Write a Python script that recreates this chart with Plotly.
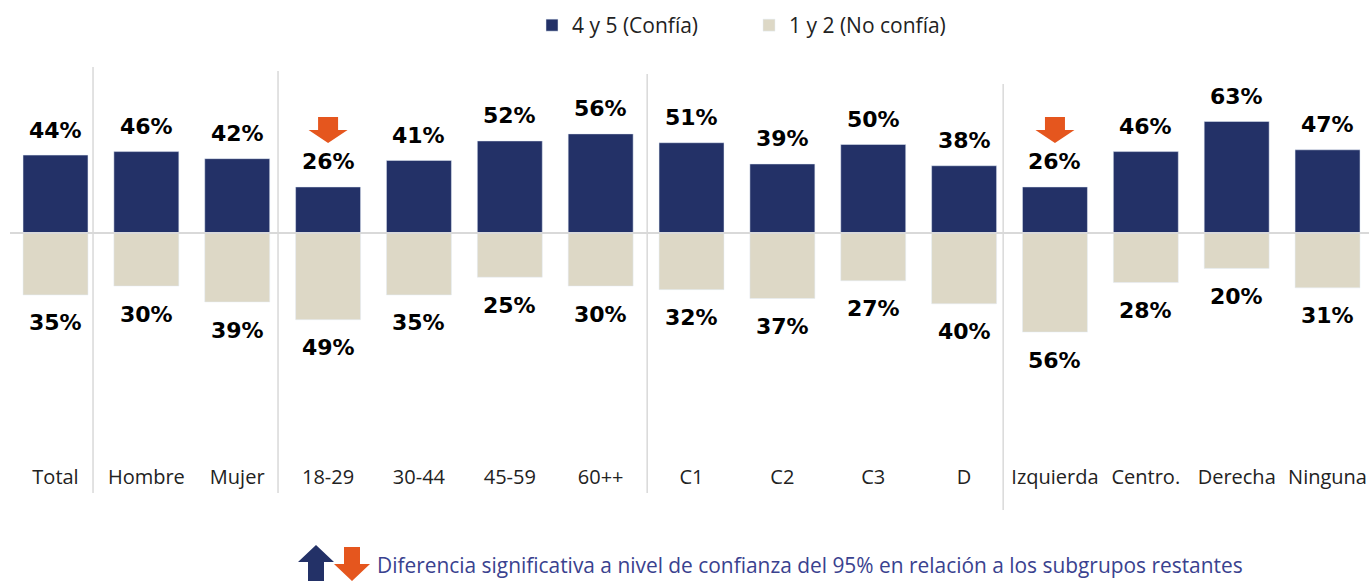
import plotly.graph_objects as go

# Survey results: share who trust (4-5) vs. do not trust (1-2), by subgroup
categories = ["Total", "Hombre", "Mujer", "18-29", "30-44", "45-59", "60++",
              "C1", "C2", "C3", "D", "Izquierda", "Centro.", "Derecha", "Ninguna"]
confia = [44, 46, 42, 26, 41, 52, 56, 51, 39, 50, 38, 26, 46, 63, 47]
no_confia = [35, 30, 39, 49, 35, 25, 30, 32, 37, 27, 40, 56, 28, 20, 31]
# significant difference vs. remaining subgroups: 1 = higher, -1 = lower, 0 = none
significancia = [0, 0, 0, -1, 0, 0, 0, 0, 0, 0, 0, -1, 0, 0, 0]

series_names = ["4 y 5 (Confía)", "1 y 2 (No confía)"]
nota = "Diferencia significativa a nivel de confianza del 95% en relación a los subgrupos restantes"

NAVY = "#233167"
BEIGE = "#DDD8C6"
ORANGE = "#E5561E"
GRID = "#D9D9D9"

W, H = 1369, 581
M_T, M_B = 60, 121
x_idx = list(range(len(categories)))

fig = go.Figure()
fig.add_bar(x=x_idx, y=confia, name=series_names[0], marker_color=NAVY,
            width=0.715, hoverinfo="skip")
fig.add_bar(x=x_idx, y=[-v for v in no_confia], name=series_names[1],
            marker_color=BEIGE, width=0.715, hoverinfo="skip")

label_font = dict(family="DejaVu Sans", size=22, color="#000000", weight="bold")
annotations = []
for i, (p, n) in enumerate(zip(confia, no_confia)):
    annotations.append(dict(x=i, y=p, text=f"{p}%", showarrow=False,
                            yanchor="middle", yshift=25, font=label_font))
    annotations.append(dict(x=i, y=-n, text=f"{n}%", showarrow=False,
                            yanchor="middle", yshift=-28, font=label_font))

plot_h = H - M_T - M_B


def py(px):
    """Convert a page pixel row to paper y."""
    return 1 - (px - M_T) / plot_h


shapes = []
# baseline
shapes.append(dict(type="line", xref="paper", yref="y", x0=10 / W, x1=1, y0=0, y1=0,
                   line=dict(color=GRID, width=2), layer="above"))
# group separators
for xs, top, bot in [(0.413, 67, 493), (2.449, 71, 493), (6.512, 74, 493), (10.43, 84, 510)]:
    shapes.append(dict(type="line", xref="x", yref="paper", x0=xs, x1=xs,
                       y0=py(bot), y1=py(top), line=dict(color=GRID, width=1.5)))


def arrow_path(down=True, tip=0, head=13, shaft=13, hw=19.5, sw=10):
    if down:
        pts = [(0, tip), (-hw, tip + head), (-sw, tip + head), (-sw, tip + head + shaft),
               (sw, tip + head + shaft), (sw, tip + head), (hw, tip + head)]
    else:
        pts = [(0, tip), (-hw, tip - head), (-sw, tip - head), (-sw, tip - head - shaft),
               (sw, tip - head - shaft), (sw, tip - head), (hw, tip - head)]
    return "M" + " L".join(f"{x},{y}" for x, y in pts) + " Z"


# significance arrows above bars
for i, s in enumerate(significancia):
    if s == 0:
        continue
    down = s < 0
    shapes.append(dict(type="path", xref="x", yref="y", xsizemode="pixel", ysizemode="pixel",
                       xanchor=i, yanchor=confia[i],
                       path=arrow_path(down=down, tip=44 if down else 70),
                       fillcolor=ORANGE if down else NAVY, line=dict(width=0)))

# footnote arrows
shapes.append(dict(type="path", xref="paper", yref="paper", xsizemode="pixel", ysizemode="pixel",
                   xanchor=316 / W, yanchor=py(581),
                   path=arrow_path(down=False, tip=36, head=17, shaft=19, hw=18, sw=8),
                   fillcolor=NAVY, line=dict(width=0)))
shapes.append(dict(type="path", xref="paper", yref="paper", xsizemode="pixel", ysizemode="pixel",
                   xanchor=352 / W, yanchor=py(581),
                   path=arrow_path(down=True, tip=0, head=17, shaft=17, hw=18, sw=8),
                   fillcolor=ORANGE, line=dict(width=0)))

annotations.append(dict(xref="paper", yref="paper", x=375 / W, y=py(565), xanchor="left",
                        yanchor="middle", showarrow=False, text=nota,
                        font=dict(family="Open Sans", size=20.9, color="#3A428F")))

px_per_unit = 90.86
x0_px = 55.5
fig.update_layout(
    width=W, height=H,
    margin=dict(l=0, r=0, t=M_T, b=M_B, pad=0),
    paper_bgcolor="white", plot_bgcolor="white",
    barmode="relative",
    showlegend=True,
    legend=dict(orientation="h", x=532 / W, xanchor="left", y=py(5), yanchor="top",
                font=dict(family="Open Sans", size=21, color="#222222"),
                entrywidth=172, entrywidthmode="pixels", traceorder="normal",
                bgcolor="rgba(0,0,0,0)"),
    xaxis=dict(range=[-x0_px / px_per_unit, (W - x0_px) / px_per_unit],
               tickvals=x_idx, ticktext=categories, showgrid=False, zeroline=False,
               showline=False, ticks="", ticklabelstandoff=3,
               tickfont=dict(family="Open Sans", size=20, color="#222222"),
               fixedrange=True),
    yaxis=dict(range=[-(M_T + plot_h - 233) / 1.77, (233 - M_T) / 1.77], visible=False,
               showgrid=False, zeroline=False, fixedrange=True),
    annotations=annotations,
    shapes=shapes,
)

fig.write_html("out.html")
